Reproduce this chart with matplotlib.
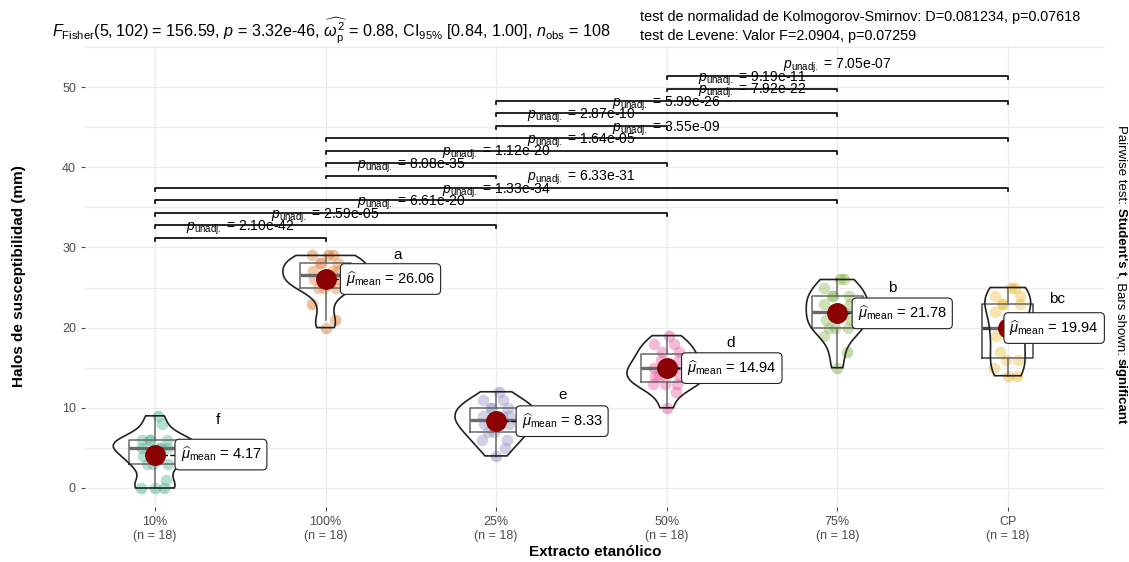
import numpy as np
import matplotlib
matplotlib.use("Agg")
import matplotlib.pyplot as plt

plt.rcParams['font.family'] = ['Liberation Sans', 'DejaVu Sans']
plt.rcParams['mathtext.fontset'] = 'custom'
plt.rcParams['mathtext.rm'] = 'Liberation Sans'
plt.rcParams['mathtext.it'] = 'Liberation Sans:italic'
plt.rcParams['mathtext.bf'] = 'Liberation Sans:bold'

# data
groups = ["10%", "100%", "25%", "50%", "75%", "CP"]
g10 = [0, 0, 0, 1, 3, 3, 3, 4, 5, 5, 5, 5, 6, 6, 6, 6, 8, 9]
g100 = [20, 21, 23, 25, 25, 25, 26, 26, 26, 27, 27, 27, 28, 28, 28, 29, 29, 29]
g25 = [4, 5, 6, 6, 7, 7, 8, 8, 8, 9, 9, 9, 10, 10, 10, 11, 11, 12]
g50 = [10, 12, 13, 13, 13, 14, 14, 14, 15, 15, 15, 16, 16, 17, 17, 18, 18, 19]
g75 = [15, 17, 19, 20, 20, 20, 21, 21, 22, 22, 23, 23, 24, 24, 24, 25, 26, 26]
gcp = [14, 14, 15, 16, 16, 17, 19, 19, 20, 20, 22, 23, 23, 23, 24, 24, 25, 25]
values = [g10, g100, g25, g50, g75, gcp]
letters = ["f", "a", "e", "d", "b", "bc"]

pairs = [(0, 1), (0, 2), (0, 3), (0, 4), (0, 5), (1, 2), (1, 3), (1, 4), (1, 5),
         (2, 3), (2, 4), (2, 5), (3, 4), (3, 5)]
p_labels = ["2.10e-42", "2.59e-05", "6.61e-20", "1.33e-34", "6.33e-31", "8.08e-35",
            "1.12e-20", "1.64e-05", "3.55e-09", "2.87e-10", "5.99e-26", "7.92e-22",
            "9.19e-11", "7.05e-07"]

colors = ["#1B9E77", "#D95F02", "#7570B3", "#E7298A", "#66A61E", "#E6AB02"]

# layout
label_dx = [0.15, 0.12, 0.15, 0.12, 0.12, 0.01]
letter_dx = [0.37, 0.42, 0.39, 0.375, 0.32, 0.29]
letter_dy = [-0.5, 0.05, -0.4, -0.9, -1.1, -1.4]
bar_y0, bar_step = 31.2, 1.55


def kde(v):
    v = np.asarray(v, float)
    n = len(v)
    sd = v.std(ddof=1)
    q75, q25 = np.percentile(v, [75, 25])
    bw = 0.9 * min(sd, (q75 - q25) / 1.34) * n ** -0.2
    grid = np.linspace(v.min(), v.max(), 512)
    d = np.exp(-0.5 * ((grid[:, None] - v[None, :]) / bw) ** 2).sum(1) / (n * bw * np.sqrt(2 * np.pi))
    return grid, d


fig = plt.figure(figsize=(11.29, 5.62), dpi=100)
ax = fig.add_axes([85 / 1129, 1 - 507 / 562, (1105 - 85) / 1129, (507 - 45) / 562])

ax.set_xlim(0.59, 6.57)
ax.set_ylim(-2.37, 55.24)
ax.set_yticks(np.arange(0, 51, 10))
ax.set_yticks(np.arange(5, 56, 10), minor=True)
ax.set_xticks(range(1, 7))
ax.set_xticklabels([f"{g}\n(n = {len(v)})" for g, v in zip(groups, values)])
ax.grid(True, which='both', color='#EBEBEB', lw=0.9)
ax.tick_params(axis='x', which='minor', bottom=False)
ax.set_axisbelow(True)
for s in ax.spines.values():
    s.set_visible(False)
ax.tick_params(colors='#4D4D4D', labelsize=9, length=3, width=0.8)
ax.tick_params(axis='y', which='minor', length=0)
ax.set_ylabel("Halos de susceptibilidad (mm)", fontsize=11, fontweight='bold')
ax.yaxis.set_label_coords(-0.058, 0.5)
ax.set_xlabel("Extracto etanólico", fontsize=11, fontweight='bold', labelpad=2)

# jittered points
offs = 0.08 * np.sin(np.arange(18) * 2.39)
for i, v in enumerate(values):
    ax.scatter(i + 1 + offs[:len(v)], v, s=70, color=colors[i], alpha=0.4, lw=0, zorder=2)

# boxplots
ax.boxplot(values, positions=range(1, 7), widths=0.3, showfliers=False, showcaps=False,
           boxprops=dict(color='#444444', lw=1.1), medianprops=dict(color='#444444', lw=2.4),
           whiskerprops=dict(color='#444444', lw=1.1), manage_ticks=False, zorder=3)

# violins (area scaled)
dens = [kde(v) for v in values]
dmax = max(d.max() for _, d in dens)
for i, (grid, d) in enumerate(dens):
    w = 0.25 * d / dmax
    xs = np.concatenate([i + 1 - w, (i + 1 + w)[::-1]])
    ys = np.concatenate([grid, grid[::-1]])
    ax.fill(xs, ys, facecolor='white', alpha=0.2, zorder=4)
    ax.fill(xs, ys, facecolor='none', edgecolor='#222222', lw=1.2, zorder=4)

# means
for i, v in enumerate(values):
    m = np.mean(v)
    x = i + 1
    ax.plot([x, x + label_dx[i]], [m, m], color='black', ls='--', lw=1.0, zorder=5)
    ax.plot(x, m, 'o', color='#8B0000', ms=14, zorder=6)
    ax.text(x + label_dx[i], m, r"$\widehat{\mu}_{\rm mean}$ = " + f"{m:.2f}",
            ha='left', va='center', fontsize=10.5, zorder=7,
            bbox=dict(boxstyle='round,pad=0.38,rounding_size=0.3', fc='white', ec='#222222', lw=0.8))
    ax.text(x + letter_dx[i], max(v) + letter_dy[i], letters[i], ha='center', va='center',
            fontsize=11, zorder=7)

# pairwise bars
for k, ((a, b), lab) in enumerate(zip(pairs, p_labels)):
    y = bar_y0 + k * bar_step
    ax.plot([a + 1, a + 1, b + 1, b + 1], [y - 0.35, y, y, y - 0.35], color='black', lw=1.2, zorder=5)
    ax.text((a + b) / 2 + 1, y + 0.1, r"$p_{\rm unadj.}$ = " + lab, ha='center', va='bottom',
            fontsize=10, zorder=6)

# titles
fig.text(52 / 1129, 1 - 31 / 562,
         r"$F_{\rm Fisher}(5, 102)$ = 156.59, $p$ = 3.32e-46, $\widehat{\omega_{\rm p}^2}$ = 0.88, "
         r"CI$_{\rm 95\%}$ [0.84, 1.00], $n_{\rm obs}$ = 108", fontsize=11.6, va='center')
fig.text(640 / 1129, 1 - 17 / 562, "test de normalidad de Kolmogorov-Smirnov: D=0.081234, p=0.07618",
         fontsize=10.4, va='center')
fig.text(640 / 1129, 1 - 36 / 562, "test de Levene: Valor F=2.0904, p=0.07259", fontsize=10.4, va='center')

# right side caption with mixed weights, rotated
pieces = [("Pairwise test: ", 'normal'), ("Student's t", 'bold'), (", Bars shown: ", 'normal'),
          ("significant", 'bold')]
fig.canvas.draw()
r = fig.canvas.get_renderer()
ytop = 1 - 125 / 562
for txt, wt in pieces:
    t = fig.text(1121 / 1129, ytop, txt, rotation=-90, fontsize=9.5, fontweight=wt,
                 ha='center', va='top', rotation_mode='default')
    bb = t.get_window_extent(r)
    ytop -= bb.height / fig.bbox.height

fig.savefig("out.png", dpi=100)
